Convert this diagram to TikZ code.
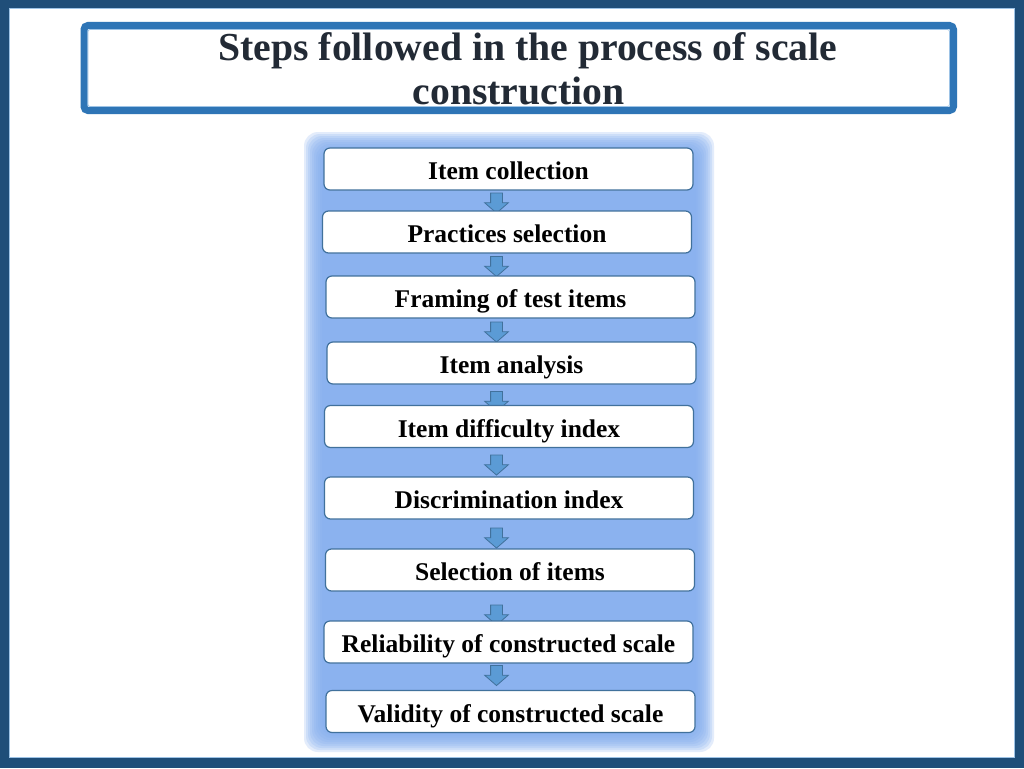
\documentclass[tikz,border=0pt]{standalone}
\usepackage{fontspec}
\setmainfont{Liberation Serif}
\usetikzlibrary{shapes.arrows}
\definecolor{framedark}{RGB}{31,78,121}
\definecolor{framelight}{RGB}{157,195,230}
\definecolor{titleblue}{RGB}{46,117,182}
\definecolor{titletext}{RGB}{34,42,53}
\definecolor{glowblue}{RGB}{131,173,239}
\definecolor{boxedge}{RGB}{65,113,156}
\definecolor{arrowfill}{RGB}{91,155,213}
\definecolor{arrowedge}{RGB}{65,113,156}
\begin{document}
\begin{tikzpicture}[x=1pt,y=-1pt,
 stepbox/.style={draw=boxedge, line width=1.2pt, fill=white, rounded corners=6pt,
   minimum width=369pt, minimum height=42pt, inner sep=0pt,
   font=\fontsize{25.5}{30}\selectfont\bfseries, text height=21pt, text depth=0pt},
 flowarrow/.style={single arrow, draw=arrowedge, fill=arrowfill, line width=0.8pt,
   rotate=-90, minimum height=20pt, text height=11pt, text depth=0pt, text width=0pt,
   single arrow head extend=6pt, single arrow tip angle=98, inner sep=0pt},
 titletxt/.style={font=\fontsize{39.7}{46}\selectfont\bfseries, text=titletext,
   anchor=base, inner sep=0pt}
]
\useasboundingbox (0,0) rectangle (1024,768);
% outer frame
\fill[framedark] (0,0) rectangle (1024,768);
\fill[white] (8.5,8.5) rectangle (1015,757.5);
\draw[framelight, line width=1pt] (9,9) rectangle (1014.5,757);
% title box
\draw[titleblue, line width=7pt, rounded corners=4pt] (84,25.5) rectangle (953.5,110.5);
\draw[framelight, line width=0.8pt, rounded corners=2pt] (88,29.5) rectangle (949.5,106.5);
\node[titletxt] (title1) at (528,60) {Steps followed in the process of scale};
\node[titletxt] (title2) at (518.5,104) {construction};
% glow
\foreach \d in {14,12,...,-4} {
  \fill[glowblue, fill opacity=0.22, rounded corners=14pt]
    (318-\d,146-\d) rectangle (700+\d,738+\d);
}
% arrows
\node[flowarrow] (a1) at (496.5,200.5) {};
\node[flowarrow] (a2) at (496.5,264) {};
\node[flowarrow] (a3) at (496.5,329.5) {};
\node[flowarrow] (a4) at (496.5,399) {};
\node[flowarrow] (a5) at (496.5,462.5) {};
\node[flowarrow] (a6) at (496.5,535.5) {};
\node[flowarrow] (a7) at (496.5,612.5) {};
\node[flowarrow] (a8) at (496.5,673) {};
% boxes
\node[stepbox] (b1) at (508.5,169) {Item collection};
\node[stepbox] (b2) at (507,232) {Practices selection};
\node[stepbox] (b3) at (510.5,297) {Framing of test items};
\node[stepbox] (b4) at (511.5,363) {Item analysis};
\node[stepbox] (b5) at (509,426.5) {Item difficulty index};
\node[stepbox] (b6) at (509,498) {Discrimination index};
\node[stepbox] (b7) at (510,570) {Selection of items};
\node[stepbox] (b8) at (508.5,642) {Reliability of constructed scale};
\node[stepbox] (b9) at (510.5,711.5) {Validity of constructed scale};
\end{tikzpicture}
\end{document}
